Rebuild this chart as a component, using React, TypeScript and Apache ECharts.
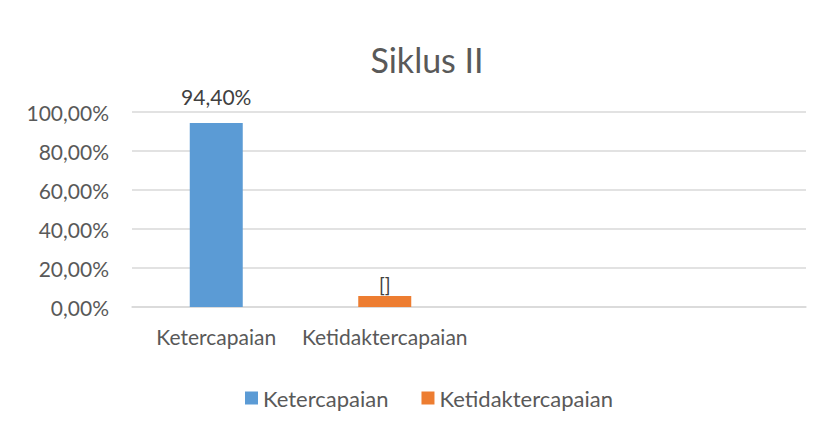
import React, { useEffect, useRef } from "react";
import * as echarts from "echarts";

const categories = ["Ketercapaian", "Ketidaktercapaian", "", ""];
const ketercapaian = [0.944, null, null, null];
const ketidaktercapaian = [null, 0.056, null, null];
const yTicks = { min: 0, max: 1, interval: 0.2 };

const FONT = "Lato, 'Open Sans', sans-serif";
const fmtPct = (v: number) => (v * 100).toFixed(2).replace(".", ",") + "%";

export default function App() {
  const ref = useRef<HTMLDivElement>(null);
  useEffect(() => {
    if (!ref.current) return;
    const chart = echarts.init(ref.current, null, { renderer: "svg" });
    chart.setOption({
      animation: false,
      backgroundColor: "#ffffff",
      title: {
        text: "Siklus II",
        left: 422,
        top: 37,
        textAlign: "center",
        textStyle: { fontFamily: FONT, fontSize: 34, fontWeight: "normal", color: "#595959" },
      },
      legend: {
        top: 382,
        left: 240,
        itemWidth: 13,
        itemHeight: 13,
        itemGap: 33,
        icon: "rect",
        textStyle: { fontFamily: FONT, fontSize: 22, color: "#595959" },
        data: ["Ketercapaian", "Ketidaktercapaian"],
      },
      grid: { left: 132, right: 16, top: 112, bottom: 118 },
      xAxis: {
        type: "category",
        data: categories,
        axisLine: { lineStyle: { color: "#d9d9d9", width: 1.5 } },
        axisTick: { show: false },
        axisLabel: { fontFamily: FONT, fontSize: 21, color: "#595959", margin: 19, interval: 0 },
      },
      yAxis: {
        type: "value",
        min: yTicks.min,
        max: yTicks.max,
        interval: yTicks.interval,
        axisLine: { show: false },
        axisTick: { show: false },
        splitLine: { lineStyle: { color: "#d9d9d9", width: 1.5 } },
        axisLabel: {
          fontFamily: FONT,
          fontSize: 21,
          color: "#595959",
          margin: 23,
          formatter: (v: number) => fmtPct(v),
        },
      },
      series: [
        {
          name: "Ketercapaian",
          type: "bar",
          data: ketercapaian,
          barWidth: 53,
          barGap: "-100%",
          itemStyle: { color: "#5b9bd5" },
          label: {
            show: true,
            position: "top",
            distance: 16,
            fontFamily: FONT,
            fontSize: 21,
            color: "#404040",
            formatter: (p: any) => fmtPct(p.value),
          },
        },
        {
          name: "Ketidaktercapaian",
          type: "bar",
          data: ketidaktercapaian,
          barWidth: 53,
          barGap: "-100%",
          itemStyle: { color: "#ed7d31" },
          label: {
            show: true,
            position: "top",
            distance: 2,
            fontFamily: FONT,
            fontSize: 19,
            color: "#404040",
            formatter: () => "[]",
          },
        },
      ],
    });
    return () => chart.dispose();
  }, []);
  return (
    <div
      ref={ref}
      style={{ position: "fixed", left: 0, top: 0, width: 822, height: 425 }}
    />
  );
}
